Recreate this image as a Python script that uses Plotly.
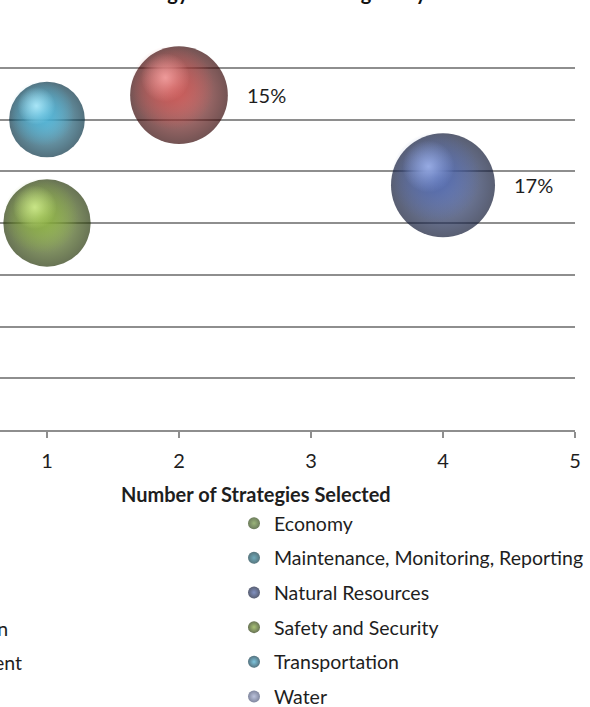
import math
import plotly.graph_objects as go

# ---------------- data ----------------
chart_title = "Strategy Selection & Ranking Analysis"
x_title = "Number of Strategies Selected"
x_tick_vals = [1, 2, 3, 4, 5]

# bubbles visible in the chart
series_names = ["Air Quality", "Natural Resources", "Transportation", "Safety and Security"]
series_x = [2, 4, 1, 1]
series_y = [6.47, 4.73, 6.0, 4.0]
series_size = [15, 17, 9, 12]          # bubble size (%)
series_labels = ["15%", "17%", "", ""]

# legend (right column fully visible, left column mostly cut off)
legend_names = ["Economy", "Maintenance, Monitoring, Reporting", "Natural Resources",
                "Safety and Security", "Transportation", "Water"]
left_legend_names = ["Agriculture", "Air Quality", "Coastal", "Communication",
                     "Community Engagement", ""]

# ---------------- style ----------------
FONT = "Lato"
TXT = "#1e1e1e"
GRID = "#8e8e8e"
W, H = 590, 707
ML, MR, MT, MB = 0, 15, 15, 277
X_RANGE = [1 - 47 / 132, 5]
MAX_DIAM = 104

colors = {  # edge, mid, highlight
    "Economy": ("#2e4416", "#6f9440", "#b5d27e"),
    "Maintenance, Monitoring, Reporting": ("#0f3a46", "#31859c", "#86c6d8"),
    "Natural Resources": ("#121a36", "#4b62a6", "#a2b6ee"),
    "Safety and Security": ("#28380c", "#84a83c", "#d4f092"),
    "Transportation": ("#0a3446", "#48add0", "#b8f0ff"),
    "Water": ("#4b5476", "#9fa9cd", "#dde3f5"),
    "Air Quality": ("#380a0a", "#c24f4d", "#f7a6a6"),
}


def rgba(hexc, a):
    h = hexc.lstrip("#")
    return "rgba(%d,%d,%d,%s)" % (int(h[0:2], 16), int(h[2:4], 16), int(h[4:6], 16), a)


plot_w = W - ML - MR
plot_h = H - MT - MB
Y_RANGE = [0, 8 * plot_h / (plot_h - 1)]
px_per_x = plot_w / (X_RANGE[1] - X_RANGE[0])
px_per_y = plot_h / (Y_RANGE[1] - Y_RANGE[0])
max_s = max(series_size)
sizeref = 2.0 * max_s / MAX_DIAM ** 2


def diam(s):
    return MAX_DIAM * math.sqrt(s / max_s)


def py_to_paper(py):
    return (H - MB - py) / plot_h


fig = go.Figure()

# base spheres (legend order first, then the others)
order = legend_names + [n for n in series_names if n not in legend_names]
for i, name in enumerate(order):
    edge, mid, hi = colors[name]
    if name in series_names:
        k = series_names.index(name)
        xs, ys, ss = [series_x[k]], [series_y[k]], [series_size[k]]
    else:
        xs, ys, ss = [None], [None], [max_s]
    fig.add_trace(go.Scatter(
        x=xs, y=ys, mode="markers", name=name,
        legendgroup="g%d" % i,
        showlegend=name in legend_names,
        cliponaxis=False,
        marker=dict(size=ss, sizemode="area", sizeref=sizeref, color=edge,
                    gradient=dict(type="radial", color=mid),
                    line=dict(width=0)),
        hoverinfo="skip",
    ))

# body colour and highlight layers
layers = [  # (size factor, dx factor, dy factor, which colour, alpha)
    (0.86, -0.07, 0.08, 1, 1.0),
    (0.50, -0.14, 0.18, 2, 0.85),
]
for k, name in enumerate(series_names):
    d = diam(series_size[k])
    for fs, fx, fy, ci, a in layers:
        c = colors[name][ci]
        fig.add_trace(go.Scatter(
            x=[series_x[k] + fx * d / px_per_x],
            y=[series_y[k] + fy * d / px_per_y],
            mode="markers", showlegend=False, cliponaxis=False, hoverinfo="skip",
            marker=dict(size=fs * d, color=rgba(c, 0),
                        gradient=dict(type="radial", color=rgba(c, a)),
                        line=dict(width=0)),
        ))

# data labels
for k, lab in enumerate(series_labels):
    if not lab:
        continue
    d = diam(series_size[k])
    fig.add_annotation(x=series_x[k], y=series_y[k], text=lab, showarrow=False,
                       xanchor="left", yanchor="middle", xshift=d / 2 + 17,
                       font=dict(family=FONT, size=20, color=TXT))

# cut-off left legend column (only the tails of two rows reach the picture)
row_y = [524, 559, 594, 628, 662, 697]
row_end = [None, None, None, 9, 23, None]
for name, py, px in zip(left_legend_names, row_y, row_end):
    if not name or px is None:
        continue
    fig.add_annotation(xref="paper", yref="paper", x=px / plot_w,
                       y=py_to_paper(py), text=name, showarrow=False,
                       xanchor="right", yanchor="middle", borderpad=0,
                       font=dict(family=FONT, size=19.5, color=TXT))

# x-axis title: centred on the full chart width, which extends past the left edge
fig.add_annotation(xref="paper", yref="paper", x=256 / plot_w, y=py_to_paper(494),
                   text="<b>%s</b>" % x_title, showarrow=False,
                   xanchor="center", yanchor="middle",
                   font=dict(family=FONT, size=20, color=TXT))

# title (only its descenders remain visible)
fig.add_annotation(xref="paper", yref="paper", x=112 / plot_w,
                   y=py_to_paper(5.5), text="<b>%s</b>" % chart_title,
                   showarrow=False, xanchor="left", yanchor="bottom", borderpad=1,
                   font=dict(family=FONT, size=20, color="#111"))

fig.update_layout(
    width=W, height=H,
    margin=dict(l=ML, r=MR, t=MT, b=MB, autoexpand=False),
    paper_bgcolor="white", plot_bgcolor="white",
    font=dict(family=FONT, size=20, color=TXT),
    legend=dict(x=(274 - 40) / plot_w, xanchor="left",
                y=py_to_paper(504), yanchor="top",
                traceorder="grouped", tracegroupgap=6.3, itemsizing="constant",
                font=dict(family=FONT, size=19.5, color=TXT),
                bgcolor="rgba(0,0,0,0)"),
    xaxis=dict(range=X_RANGE, tickvals=x_tick_vals, showgrid=False, zeroline=False,
               showline=True, linecolor=GRID, linewidth=1.5,
               ticks="outside", ticklen=6, tickwidth=1.5, tickcolor=GRID,
               ticklabelstandoff=6,
               tickfont=dict(family=FONT, size=20, color=TXT)),
    yaxis=dict(range=Y_RANGE, dtick=1, showgrid=True, gridcolor=GRID, gridwidth=1.5,
               zeroline=False, showticklabels=False, showline=False),
    showlegend=True,
)

fig.write_html("out.html")
